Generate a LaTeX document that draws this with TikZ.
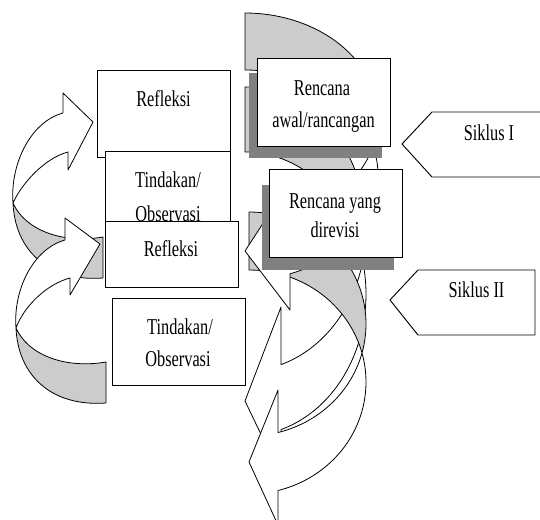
\documentclass[tikz,border=0pt]{standalone}
\usepackage{fontspec}
\setmainfont{Liberation Serif}
\usepackage{graphicx}
\newcommand\sq[1]{\scalebox{0.72}[1]{#1}}
\definecolor{bandgray}{gray}{0.8}
\definecolor{shadowgray}{gray}{0.5}
\tikzset{
 box/.style={draw=black, fill=white, line width=0.7pt, inner sep=0pt, outer sep=0pt},
 shadowbox/.style={fill=shadowgray, draw=none, inner sep=0pt, outer sep=0pt},
 txt/.style={anchor=base, inner sep=0pt, font=\fontsize{17}{20}\selectfont},
 backband/.style={fill=bandgray, draw=black, line width=0.6pt, line join=round},
 frontband/.style={fill=white, draw=black, line width=0.6pt, line join=round},
 tag/.style={fill=white, draw=black, line width=0.7pt, line join=miter},
}
% box node: name, x1, y1, x2, y2, style
\newcommand\pbox[6]{\node[#6, minimum width={(#4-#2)*0.75pt}, minimum height={(#5-#3)*0.75pt}] (#1) at ({(#2+#4)/2},{(#3+#5)/2}) {};}
% curved arrow: left x, E1 centre y, thickness, x radius, y radius, head base x, tip y, upper barb y, lower barb y
\newcommand\rarrow[9]{%
 \pgfmathsetmacro\tha{asin(#3/(2*#5))}%
 \pgfmathsetmacro\thb{acos((#6-#1)/#4)}%
 \filldraw[backband] plot[domain=-90:\tha,samples=50] ({#1+#4*cos(\x)},{#2+#5*sin(\x)})
   -- plot[domain=\tha:90,samples=50] ({#1+#4*cos(\x)},{#2+#3-#5*sin(\x)}) -- cycle;
 \filldraw[frontband] plot[domain=-\tha:\thb,samples=50] ({#1+#4*cos(\x)},{#2+#3+#5*sin(\x)})
   -- (#6,#9) -- (#1,#7) -- (#6,#8)
   -- plot[domain=-\thb:-\tha,samples=50] ({#1+#4*cos(\x)},{#2-#5*sin(\x)}) -- cycle;
}
\begin{document}
\begin{tikzpicture}[x=0.75pt,y=-0.75pt]
\useasboundingbox (0,0) rectangle (540,519);

% ---- left curved arrows ----
\filldraw[backband] (13,203) .. controls (15,250) and (48,282) .. (103,278) -- (103,237)
  .. controls (62,244) and (25,230) .. (13,203) -- cycle;
\filldraw[frontband] (13,203) .. controls (10,165) and (30,122) .. (63,113) -- (63,93) -- (93,122)
  -- (68,170) -- (68,152) .. controls (45,158) and (22,183) .. (13,203) -- cycle;
\filldraw[backband] (16,328) .. controls (18,375) and (51,407) .. (106,403) -- (106,362)
  .. controls (65,369) and (28,355) .. (16,328) -- cycle;
\filldraw[frontband] (16,328) .. controls (13,290) and (33,249) .. (65,240) -- (65,218) -- (100,244)
  -- (70,295) -- (70,278) .. controls (47,284) and (24,306) .. (16,328) -- cycle;

% ---- right curved arrows ----
\rarrow{245}{229}{65}{121}{142}{281}{401}{307}{476}
\rarrow{249}{324}{58}{117}{112}{278}{462}{390}{525}
\rarrow{245}{118}{57}{133}{105}{290}{251}{182}{310}

% ---- left boxes ----
\pbox{r1}{97}{70}{230}{157}{box}
\node[txt] (r1t) at (163.5,106) {\sq{Refleksi}};
\pbox{t1}{105}{151}{230}{245}{box}
\node[txt] (t1a) at (168,187) {\sq{Tindakan/}};
\node[txt] (t1b) at (168,221.5) {\sq{Observasi}};
\pbox{r2}{105}{221}{238}{287}{box}
\node[txt] (r2t) at (171,256) {\sq{Refleksi}};
\pbox{t2}{112}{298}{245}{385}{box}
\node[txt] (t2a) at (180,334) {\sq{Tindakan/}};
\node[txt] (t2b) at (178,366) {\sq{Observasi}};

% ---- right boxes with shadows ----
\pbox{ras}{249}{73}{382}{158}{shadowbox}
\pbox{ra}{257}{58}{390}{146}{box}
\node[txt] (rat) at (322,95) {\sq{Rencana}};
\node[txt] (rab) at (323.5,127) {\sq{awal/rancangan}};
\pbox{rds}{262}{185}{394}{270}{shadowbox}
\pbox{rd}{269}{169}{402}{257}{box}
\node[txt] (rdt) at (335,208) {\sq{Rencana yang}};
\node[txt] (rdb) at (335,237) {\sq{direvisi}};

% ---- cycle tags ----
\draw[tag] (402,144) -- (432,112) -- (542,112) -- (542,177) -- (432,177) -- cycle;
\node[txt] (s1) at (489,140) {\sq{Siklus I}};
\draw[tag] (390,300) -- (418,270) -- (535,270) -- (535,335) -- (418,335) -- cycle;
\node[txt] (s2) at (476.5,297) {\sq{Siklus II}};
\end{tikzpicture}
\end{document}
